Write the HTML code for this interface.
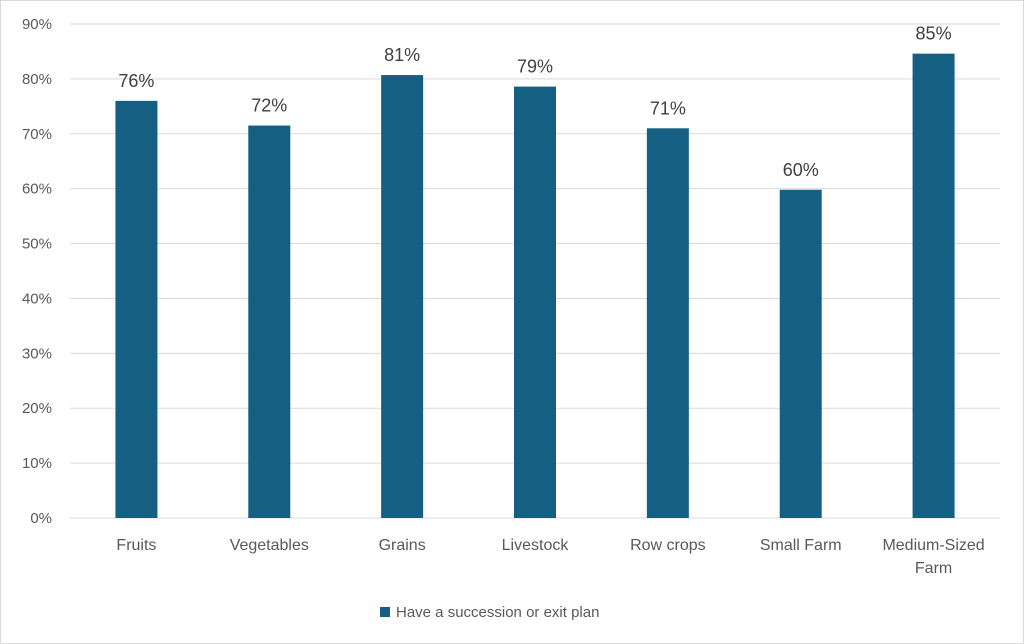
<!DOCTYPE html>
<html><head><meta charset="utf-8"><style>
html,body{margin:0;padding:0;background:#fff;}
svg{display:block;font-family:"Liberation Sans",sans-serif;}
</style></head><body>
<svg id="chart" width="1024" height="644" xmlns="http://www.w3.org/2000/svg">
<rect x="0.5" y="0.5" width="1023" height="643" fill="#fff" stroke="#d9d9d9"/>
<g id="grid"></g><g id="bars"></g><g id="labels"></g>
<g>
<rect x="380" y="607" width="10" height="10" fill="#156082"/>
<text x="396" y="617" font-size="15" fill="#595959">Have a succession or exit plan</text>
</g>
</svg>
<script>
const categories = [["Fruits"],["Vegetables"],["Grains"],["Livestock"],["Row crops"],["Small Farm"],["Medium-Sized","Farm"]];
const values = [76, 71.5, 80.7, 78.6, 71.0, 59.8, 84.6];
const valueLabels = ["76%","72%","81%","79%","71%","60%","85%"];
const ticks = [0,10,20,30,40,50,60,70,80,90];
const NS="http://www.w3.org/2000/svg";
const left=70,right=1000,y0=518,yTop=24,maxV=90;
const y=v=>y0-(v/maxV)*(y0-yTop);
const band=(right-left)/categories.length;
const x=i=>left+band*(i+0.5);
function mk(tag,attrs,parent){const e=document.createElementNS(NS,tag);for(const k in attrs)e.setAttribute(k,attrs[k]);parent.appendChild(e);return e;}
const grid=document.getElementById('grid'),bars=document.getElementById('bars'),labels=document.getElementById('labels');
ticks.forEach(t=>{
  const l=mk('line',{x1:left,x2:right,y1:y(t),y2:y(t),stroke:'#d9d9d9','stroke-width':1},grid);
  
  
  const tx=mk('text',{x:52,y:y(t)+5,'text-anchor':'end','font-size':15,fill:'#595959'},grid);
  tx.textContent=t+'%';
  
  
});
values.forEach((v,i)=>{
  const w=42;
  const r=mk('rect',{x:x(i)-w/2,y:y(v),width:w,height:y0-y(v),fill:'#156082'},bars);
  
  
  const t=mk('text',{x:x(i),y:y(v)-14,'text-anchor':'middle','font-size':18,fill:'#404040'},labels);
  t.textContent=valueLabels[i];
  
  
  categories[i].forEach((line,j)=>{
    const c=mk('text',{x:x(i),y:550+j*23,'text-anchor':'middle','font-size':16,fill:'#595959'},labels);
    c.textContent=line;
    
    
  });
});
</script>
</body></html>
